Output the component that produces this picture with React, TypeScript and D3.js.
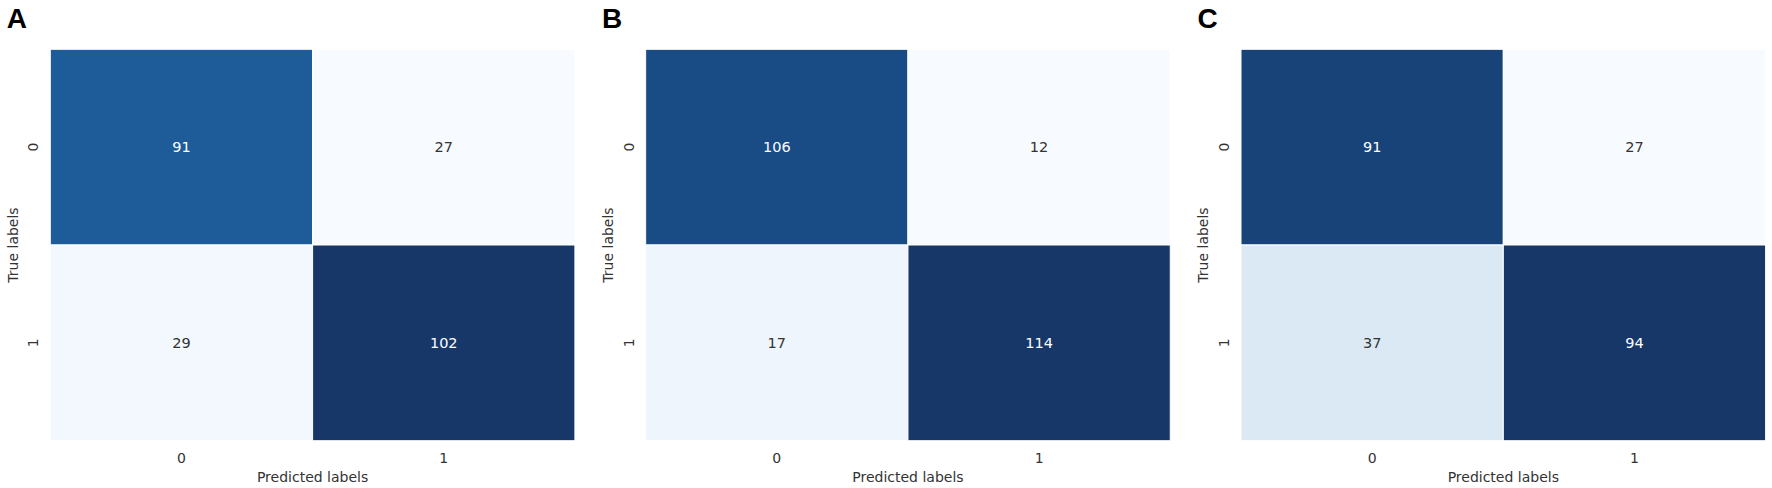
import React from "react";
import * as d3 from "d3";

const panelLetters = ["A", "B", "C"];
const classLabels = ["0", "1"];
// matrices: rows = true label, cols = predicted label
const matrixA = [
  [91, 27],
  [29, 102],
];
const matrixB = [
  [106, 12],
  [17, 114],
];
const matrixC = [
  [91, 27],
  [37, 94],
];
const matrices = [matrixA, matrixB, matrixC];
const xTitle = "Predicted labels";
const yTitle = "True labels";

const bluesStops = [
  "#f7fbff",
  "#deebf7",
  "#c6dbef",
  "#9ecae1",
  "#6baed6",
  "#4292c6",
  "#2171b5",
  "#08519c",
  "#08306b",
];
const bluesRaw = d3.piecewise(d3.interpolateRgb, bluesStops);
// the reference image is slightly desaturated in its dark tones
const blues = (t: number) => {
  const c = d3.hsl(bluesRaw(t));
  c.s = c.s * (1 - 0.25 * t);
  c.l = c.l + 0.022 * t;
  return c.formatHex();
};

const W = 1772;
const H = 488;
const firstLeft = 50.3;
const panelStep = 595.35;
const mapW = 524.6;
const mapTop = 49.3;
const mapH = 391.4;
const font = "'DejaVu Sans', sans-serif";
const textColor = "#333333";

function Panel({ idx }: { idx: number }) {
  const m = matrices[idx];
  const left = firstLeft + idx * panelStep;
  const x = d3.scaleBand<string>().domain(classLabels).range([left, left + mapW]);
  const y = d3.scaleBand<string>().domain(classLabels).range([mapTop, mapTop + mapH]);
  const flat = m.flat();
  const ext = d3.extent(flat) as [number, number];
  const norm = d3.scaleLinear().domain(ext).range([0, 1]);
  const cells: { r: string; c: string; v: number }[] = [];
  classLabels.forEach((r, ri) =>
    classLabels.forEach((c, ci) => cells.push({ r, c, v: m[ri][ci] }))
  );
  return (
    <g>
      <text
        x={left - 43.6}
        y={28}
        fontFamily="'Liberation Sans', Arial, sans-serif"
        fontWeight="bold"
        fontSize={28}
        fill="#000"
      >
        {panelLetters[idx]}
      </text>
      {cells.map((d, i) => {
        const t = norm(d.v);
        const fill = blues(t);
        return (
          <g key={i}>
            <rect
              x={x(d.c)}
              y={y(d.r)}
              width={x.bandwidth()}
              height={y.bandwidth()}
              fill={fill}
              stroke="#ffffff"
              strokeWidth={1}
            />
            <text
              x={(x(d.c) as number) + x.bandwidth() / 2}
              y={(y(d.r) as number) + y.bandwidth() / 2}
              textAnchor="middle"
              dominantBaseline="central"
              fontFamily={font}
              fontSize={14.5}
              fill={t > 0.5 ? "#ffffff" : textColor}
            >
              {d.v}
            </text>
          </g>
        );
      })}
      {classLabels.map((c) => (
        <text
          key={"xt" + c}
          x={(x(c) as number) + x.bandwidth() / 2}
          y={458.3}
          textAnchor="middle"
          dominantBaseline="central"
          fontFamily={font}
          fontSize={14}
          fill={textColor}
        >
          {c}
        </text>
      ))}
      {classLabels.map((r) => {
        const cx = left - 17;
        const cy = (y(r) as number) + y.bandwidth() / 2;
        return (
          <text
            key={"yt" + r}
            transform={`translate(${cx},${cy}) rotate(-90)`}
            textAnchor="middle"
            dominantBaseline="central"
            fontFamily={font}
            fontSize={14}
            fill={textColor}
          >
            {r}
          </text>
        );
      })}
      <text
        x={left + mapW / 2}
        y={477}
        textAnchor="middle"
        dominantBaseline="central"
        fontFamily={font}
        fontSize={14}
        fill={textColor}
      >
        {xTitle}
      </text>
      <text
        transform={`translate(${left - 37.6},${mapTop + mapH / 2}) rotate(-90)`}
        textAnchor="middle"
        dominantBaseline="central"
        fontFamily={font}
        fontSize={14}
        fill={textColor}
      >
        {yTitle}
      </text>
    </g>
  );
}

export default function App() {
  return (
    <svg
      width={W}
      height={H}
      viewBox={`0 0 ${W} ${H}`}
      style={{ position: "absolute", left: 0, top: 0, display: "block", background: "#ffffff" }}
    >
      <rect x={0} y={0} width={W} height={H} fill="#ffffff" />
      {panelLetters.map((_, i) => (
        <Panel key={i} idx={i} />
      ))}
    </svg>
  );
}
